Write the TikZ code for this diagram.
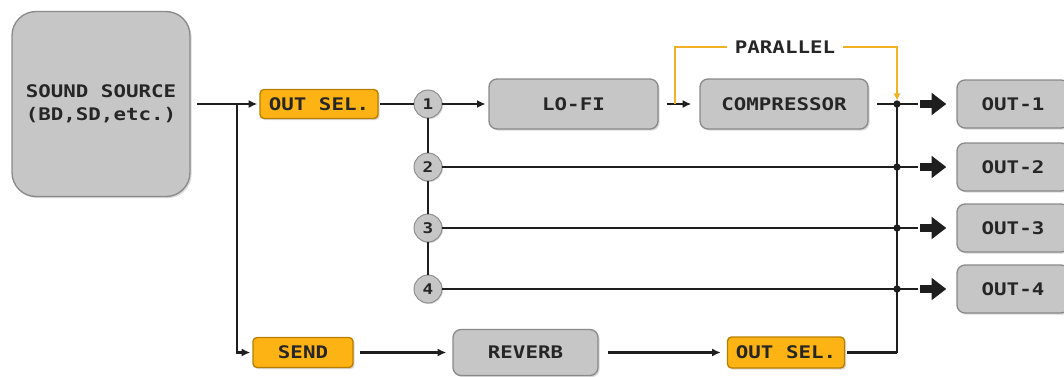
\documentclass[tikz,border=0pt]{standalone}
\usepackage{fontspec}
\setmainfont{DejaVu Sans Mono}[FakeStretch=1.2]
\usetikzlibrary{arrows.meta,shadows}
\definecolor{boxgray}{HTML}{C6C6C6}
\definecolor{boxedge}{HTML}{8A8A8A}
\definecolor{selorange}{HTML}{FDB313}
\definecolor{orangeedge}{HTML}{B87E00}
\definecolor{parorange}{HTML}{F2B125}
\definecolor{wirecol}{HTML}{1E1E1E}
\definecolor{txtcol}{HTML}{262626}
\begin{document}
\begin{tikzpicture}[x=0.75pt,y=-0.75pt,
  graybox/.style={draw=boxedge, fill=boxgray, line width=1pt, rounded corners=6pt,
    drop shadow={opacity=0.3,shadow xshift=1.2pt,shadow yshift=-1.2pt},
    font=\fontsize{13}{17}\selectfont\bfseries, text=txtcol, inner sep=0pt, align=center},
  orangebox/.style={graybox, fill=selorange, draw=orangeedge, rounded corners=3pt},
  num/.style={circle, fill=boxgray, draw=boxedge, line width=0.7pt, minimum size=21pt,
    drop shadow={opacity=0.3,shadow xshift=0.8pt,shadow yshift=-0.8pt},
    font=\fontsize{11}{12}\selectfont\bfseries, text=txtcol, inner sep=0pt},
  wire/.style={line width=1.7pt, draw=wirecol},
  arr/.style={wire, -{Latex[length=6.5pt,width=6pt]}},
  bigarr/.style={line width=6pt, draw=wirecol, -{Triangle[length=11pt,width=16pt]}},
  orangewire/.style={line width=1.7pt, draw=parorange},
  dot/.style={circle, fill=wirecol, inner sep=0pt, minimum size=5.5pt},
  lbl/.style={font=\fontsize{13}{17}\selectfont\bfseries, text=txtcol, inner sep=0pt}
]
\useasboundingbox (0,0) rectangle (1064,376);

% nodes
\node[graybox, rounded corners=18pt, minimum width=133.5pt, minimum height=138.75pt] (src) at (101,104) {SOUND SOURCE\\(BD,SD,etc.)};
\node[orangebox, minimum width=88.5pt, minimum height=21.75pt] (os1) at (319,104) {OUT SEL.};
\node[num] (c1) at (428,104) {1};
\node[num] (c2) at (428,167) {2};
\node[num] (c3) at (428,228) {3};
\node[num] (c4) at (428,289) {4};
\node[graybox, minimum width=126.75pt, minimum height=37.5pt] (lofi) at (573.5,104) {LO-FI};
\node[graybox, minimum width=126pt, minimum height=37.5pt] (comp) at (784,104) {COMPRESSOR};
\node[graybox, minimum width=84pt, minimum height=36pt] (out1) at (1013,104) {OUT-1};
\node[graybox, minimum width=84pt, minimum height=36pt] (out2) at (1013,167) {OUT-2};
\node[graybox, minimum width=84pt, minimum height=36pt] (out3) at (1013,228) {OUT-3};
\node[graybox, minimum width=84pt, minimum height=36pt] (out4) at (1013,289) {OUT-4};
\node[orangebox, minimum width=75pt, minimum height=22.5pt] (send) at (303,352.5) {SEND};
\node[graybox, minimum width=108.75pt, minimum height=34.5pt] (reverb) at (525.5,352.5) {REVERB};
\node[orangebox, minimum width=87.75pt, minimum height=23.25pt] (os2) at (786,352.5) {OUT SEL.};
\node[lbl, inner xsep=6pt] (par) at (785,47) {PARALLEL};

% coordinates
\coordinate (br) at (237,104);
\coordinate (pl) at (675,104);
\coordinate (j1) at (897,104);
\coordinate (j2) at (897,167);
\coordinate (j3) at (897,228);
\coordinate (j4) at (897,289);
\coordinate (jb) at (897,352.5);
\coordinate (e1) at (918,104);
\coordinate (e2) at (918,167);
\coordinate (e3) at (918,228);
\coordinate (e4) at (918,289);
\coordinate (a1) at (920,104);
\coordinate (a2) at (920,167);
\coordinate (a3) at (920,228);
\coordinate (a4) at (920,289);

% wires
\draw[arr, shorten <=5pt, shorten >=1.5pt] (src.east) -- (os1.west);
\draw[arr, shorten >=1.5pt] (br) |- (send.west);
\draw[wire, shorten <=1pt] (os1.east) -- (c1.west);
\draw[wire] (c1) -- (c2);
\draw[wire] (c2) -- (c3);
\draw[wire] (c3) -- (c4);
\draw[arr, shorten >=2pt] (c1.east) -- (lofi.west);
\draw[arr, shorten <=6pt, shorten >=6pt] (lofi.east) -- (comp.west);
\draw[wire, shorten <=6.5pt] (comp.east) -- (e1);
\draw[wire] (c2.east) -- (e2);
\draw[wire] (c3.east) -- (e3);
\draw[wire] (c4.east) -- (e4);
\draw[wire] (j1) -- (jb);
\draw[wire, shorten <=1.5pt] (os2.east) -- (jb);
\draw[arr, shorten <=4.5pt, shorten >=4.5pt] (send.east) -- (reverb.west);
\draw[arr, shorten <=7pt, shorten >=4.5pt] (reverb.east) -- (os2.west);
\foreach \i in {1,2,3,4}{
  \node[dot] (d\i) at (j\i) {};
  \draw[bigarr, shorten >=7.5pt] (a\i) -- (out\i.west);
}
% parallel
\draw[orangewire] (pl) |- (par.west);
\draw[orangewire, -{Latex[length=5.5pt,width=5.5pt]}, shorten >=2.5pt] (par.east) -| (j1);
\end{tikzpicture}
\end{document}
